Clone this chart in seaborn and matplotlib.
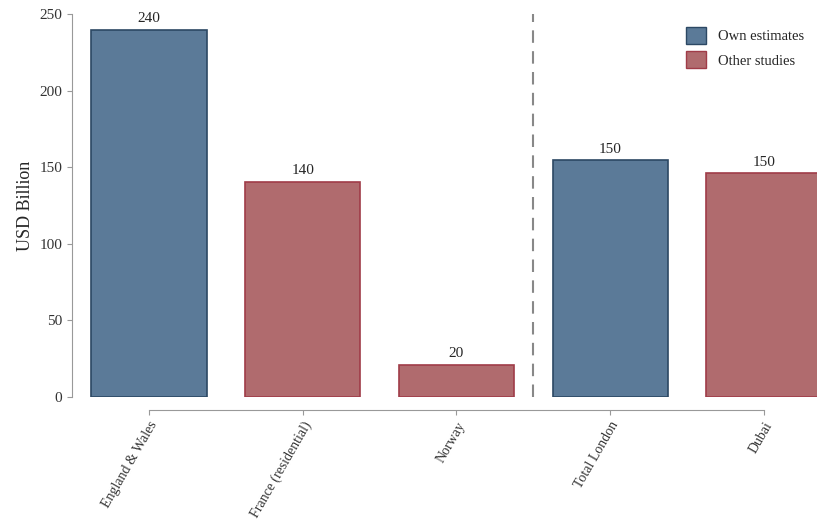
import numpy as np
import matplotlib
matplotlib.use("Agg")
import matplotlib.pyplot as plt
import seaborn as sns
from matplotlib.patches import Patch

categories = ["England & Wales", "France (residential)", "Norway", "Total London", "Dubai"]
values = [239.6, 140.3, 20.9, 154.5, 146.0]
labels = ["240", "140", "20", "150", "150"]
source = ["Own estimates", "Other studies", "Other studies", "Own estimates", "Other studies"]

fill = {"Own estimates": "#5b7a98", "Other studies": "#b06b6e"}
edge = {"Own estimates": "#2c4864", "Other studies": "#a03c48"}

sns.set_style("ticks")
plt.rcParams['font.family'] = ['Liberation Serif', 'DejaVu Serif']

fig = plt.figure(figsize=(8.17, 5.29), dpi=100)
ax = fig.add_axes([72/817, 132/529, 745/817, 383/529])

x = np.arange(len(categories))
for i, (v, s) in enumerate(zip(values, source)):
    ax.bar(x[i], v, width=0.75, color=fill[s], edgecolor=edge[s], linewidth=1.2)
    ax.text(x[i], v + 3, labels[i], ha="center", va="bottom", fontsize=11)

ax.axvline(2.5, color="#888888", linestyle=(0, (6, 4)), linewidth=1.5)
ax.set_xlim(-0.5, 4.345)
ax.set_ylim(0, 250)
ax.set_yticks([0, 50, 100, 150, 200, 250])
ax.set_xticks(x)
ax.set_xticklabels(categories, fontsize=11)
ax.tick_params(axis="y", labelsize=11, colors="#333333", color="#999999")
ax.tick_params(axis="x", colors="#333333", color="#999999")
ax.set_ylabel("USD Billion", fontsize=13)

sns.despine(ax=ax)
ax.spines["bottom"].set_position(("outward", 9))
ax.spines["bottom"].set_bounds(0, 4)
ax.spines["left"].set_bounds(0, 250)
for sp in ["left", "bottom"]:
    ax.spines[sp].set_color("#999999")

for lab in ax.get_xticklabels():
    lab.set_rotation(60)
    lab.set_ha("right")
    lab.set_rotation_mode("anchor")

handles = [Patch(facecolor=fill[k], edgecolor=edge[k], label=k) for k in fill]
ax.legend(handles=handles, loc="upper right", frameon=False, fontsize=10.5,
          handlelength=1.4, handleheight=1.4, bbox_to_anchor=(1.0, 1.0))

fig.savefig("out.png", dpi=100)
